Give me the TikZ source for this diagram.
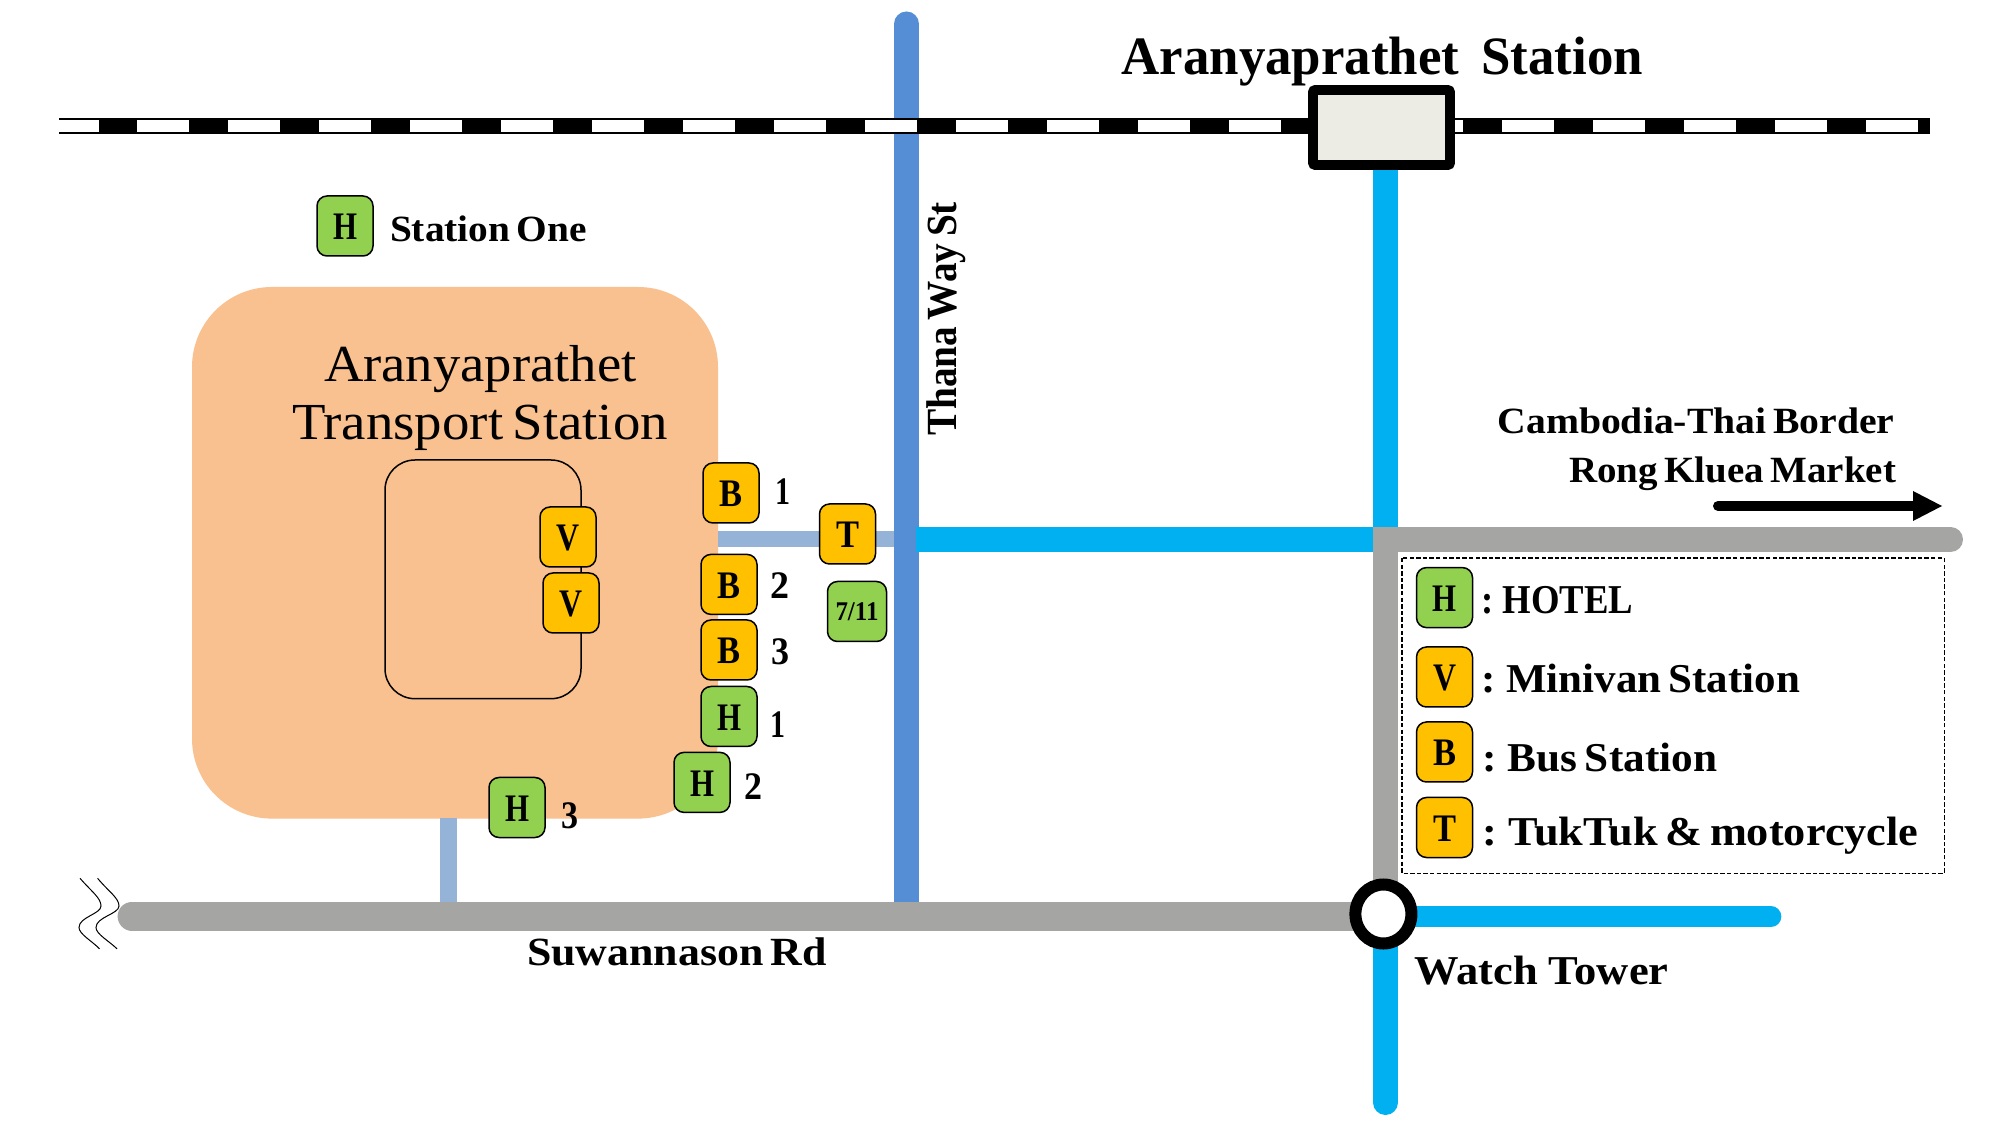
\documentclass[tikz,border=0pt]{standalone}
\usepackage{graphicx}
\usepackage{fontspec}
\setmainfont{Liberation Serif}
\definecolor{roadblue}{HTML}{558ED5}
\definecolor{lightroad}{HTML}{95B3D7}
\definecolor{cyanroad}{HTML}{00B0F0}
\definecolor{grayroad}{HTML}{A5A6A3}
\definecolor{plaza}{HTML}{F9C190}
\definecolor{stationfill}{HTML}{ECECE4}
\definecolor{hotel}{HTML}{92D050}
\definecolor{amber}{HTML}{FFC000}
\newsavebox\lblbox
\newlength\lblh
\newcommand\fitw[2]{\sbox\lblbox{\spaceskip=.17em\relax #2}\setlength\lblh{\ht\lblbox}\resizebox{\dimexpr#1pt/2\relax}{\lblh}{\usebox\lblbox}}
\tikzset{
  lab/.style={anchor=base west,inner sep=0pt,outer sep=0pt,yshift=-0.6pt},
  vlab/.style={anchor=base west,inner sep=0pt,outer sep=0pt,rotate=90},
  badge/.style={draw=black,line width=0.75pt,rounded corners=5pt,inner sep=0pt,
    minimum width=28pt,minimum height=30pt,text depth=0pt},
  hbadge/.style={badge,fill=hotel},
  abadge/.style={badge,fill=amber},
}
\newcommand\lab[6]{\node[lab] (#1) at (#2,#3) {\fontsize{#5}{#5}\selectfont\fitw{#4}{#6}};}
\newcommand\blab[6]{\node[lab] (#1) at (#2,#3) {\fontsize{#5}{#5}\selectfont\bfseries\fitw{#4}{#6}};}
\newcommand\blet[2]{\raisebox{-1pt}{\fontsize{19.5}{19.5}\selectfont\bfseries\fitw{#1}{#2}}}
\begin{document}
\begin{tikzpicture}[x=0.5pt,y=-0.5pt]
\useasboundingbox (0,0) rectangle (1997,1127);
\fill[white] (0,0) rectangle (1997,1127);
% Thana Way road, below the railway
\draw[roadblue,line width=12.5pt,line cap=round] (906.5,24) -- (906.5,910);
% railway
\fill[black] (59,118) rectangle (1930,134);
\fill[white] (59,120.3) rectangle (99,132.5);
\foreach \k in {0,...,19}{
  \fill[white] ({137+91.02*\k},120.3) rectangle ({189+91.02*\k},132.5);
}
% plaza and its access roads
\fill[plaza,rounded corners=40pt] (192,287) rectangle (718,818.6);
\fill[lightroad] (718,531) rectangle (894,547.5);
\fill[lightroad] (440,818) rectangle (457,905);
\draw[black,line width=0.75pt,rounded corners=15pt] (385,460) rectangle (581,698.7);
% cyan roads
\fill[cyanroad] (916,527) rectangle (1373,552);
\fill[cyanroad] (1373,165) rectangle (1398,527);
\draw[cyanroad,line width=12.5pt,line cap=round] (1385.5,935) -- (1385.5,1102.5);
\draw[cyanroad,line width=10.35pt,line cap=round] (1400,916.6) -- (1771,916.6);
% gray roads
\draw[grayroad,line width=12.5pt,line cap=round] (1950.5,539.5) -- (1390,539.5);
\fill[grayroad] (1373,527) rectangle (1398,885);
\draw[grayroad,line width=14.4pt,line cap=round] (132,916.2) -- (1380,916.2);
% watch tower
\draw[black,fill=white,line width=6pt] (1383.4,914) ellipse (28 and 29.5);
% station
\draw[black,fill=stationfill,line width=4.8pt,rounded corners=1pt] (1313,90) rectangle (1450,165);
% squiggles
\draw[black,line width=0.5pt] (80,878.3) .. controls (92,892) and (101,898) .. (101,906) .. controls (101,914) and (79,917) .. (79,927.5) .. controls (79,934) and (92,941) .. (99.5,948.8);
\draw[black,line width=0.5pt] (97.6,878.3) .. controls (109,892) and (119,898) .. (119,906) .. controls (119,914) and (96,917) .. (96,927.5) .. controls (96,934) and (109,941) .. (117,948.8);
% arrow to the border
\coordinate (arrowstart) at (1718,506);
\coordinate (arrowend) at (1915,506);
\draw[black,line width=5pt,line cap=round] (arrowstart) -- (arrowend);
\fill[black] (1913,491) -- (1942,506) -- (1913,521) -- cycle;
% legend frame
\draw[black,line width=0.65pt,dash pattern=on 2.2pt off 1.1pt] (1402,558) rectangle (1944.2,873.2);
% badges
\node[hbadge] (hone) at (345,226) {\blet{24}{H}};
\node[abadge] (b1) at (731,493) {\blet{23}{B}};
\node[abadge] (b2) at (729,584.4) {\blet{23}{B}};
\node[abadge] (b3) at (729,650) {\blet{23}{B}};
\node[abadge] (v1) at (568,537) {\blet{23}{V}};
\node[abadge] (v2) at (571,603) {\blet{23}{V}};
\node[abadge] (t1) at (847.5,534) {\blet{23}{T}};
\node[hbadge,minimum width=29.5pt] (seven) at (857,611.5) {\fontsize{13.5}{13.5}\selectfont\bfseries\fitw{43}{7/11}};
\node[hbadge] (h1) at (729,716.5) {\blet{24}{H}};
\node[hbadge] (h2) at (702,782.4) {\blet{24}{H}};
\node[hbadge] (h3) at (517,807.5) {\blet{24}{H}};
\node[hbadge] (lh) at (1444.5,597.6) {\blet{24}{H}};
\node[abadge] (lv) at (1444.5,677) {\blet{23}{V}};
\node[abadge] (lb) at (1444.5,752) {\blet{23}{B}};
\node[abadge] (lt) at (1444.5,827.5) {\blet{23}{T}};
% labels
\blab{title}{1121.6}{73}{521.4}{27}{Aranyaprathet\hspace{.42em}Station}
\blab{stone}{390}{240}{197}{18.5}{Station One}
\lab{pl1}{324}{380}{312.5}{26}{Aranyaprathet}
\lab{pl2}{292}{438.5}{376}{26}{Transport Station}
\node[vlab] (thana) at (956.6,436) {\fontsize{21.5}{21.5}\selectfont\bfseries\fitw{234}{Thana Way St}};
\blab{cam}{1497.5}{432}{397}{18.5}{Cambodia-Thai Border}
\blab{rong}{1569}{481.4}{327}{18.5}{Rong Kluea Market}
\blab{suwan}{527}{964.3}{300}{20}{Suwannason Rd}
\blab{watch}{1414.6}{983.1}{254}{20.5}{Watch\hspace{.24em}Tower}
\blab{lgh}{1481}{612.8}{152}{20.5}{: HOTEL}
\blab{lgv}{1481}{690.9}{319}{20.5}{: Minivan Station}
\blab{lgb}{1482.5}{770.5}{234.7}{20.5}{: Bus Station}
\blab{lgt}{1482.5}{843.9}{436}{20.5}{: TukTuk \& motorcycle}
\blab{n1}{775}{503.5}{15}{19.5}{1}
\blab{n2}{770}{597.3}{19}{19.5}{2}
\blab{n3}{771}{663.8}{18}{19.5}{3}
\blab{n4}{770}{736.5}{15}{19.5}{1}
\blab{n5}{744}{798.7}{18}{19.5}{2}
\blab{n6}{561}{827.6}{17}{19.5}{3}
\end{tikzpicture}
\end{document}
